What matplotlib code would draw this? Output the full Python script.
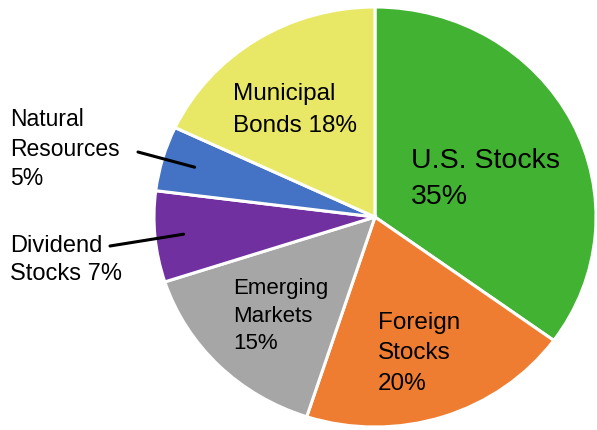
import matplotlib
matplotlib.use("Agg")
from matplotlib import pyplot as plt
import numpy as np

plt.rcParams['font.family'] = ['Liberation Sans', 'DejaVu Sans']

# data
categories = ["U.S. Stocks", "Foreign Stocks", "Emerging Markets",
              "Dividend Stocks", "Natural Resources", "Municipal Bonds"]
shares = [35, 20, 15, 7, 5, 18]
colors = ["#41B231", "#EE7D31", "#A6A6A6", "#7030A0", "#4472C4", "#E8E866"]
label_texts = ["U.S. Stocks\n35%", "Foreign\nStocks\n20%", "Emerging\nMarkets\n15%",
               "Dividend\nStocks 7%", "Natural\nResources\n5%", "Municipal\nBonds 18%"]

W, H = 597, 430
fig = plt.figure(figsize=(W / 100, H / 100), dpi=100)
ax = fig.add_axes([0, 0, 1, 1])

# pie is a bit wider than tall in the original
cx, cy = 375, 217
rx, ry = 221, 210

wedges, _ = ax.pie(shares, colors=colors, startangle=90, counterclock=False,
                   wedgeprops=dict(edgecolor='white', linewidth=2.2))
ax.set_xlim(-cx / rx, (W - cx) / rx)
ax.set_ylim(-(H - cy) / ry, cy / ry)
ax.set_aspect('auto')
ax.axis('off')


def fig_xy(px, py):
    return px / W, 1 - py / H


# (left x, block centre y in px, fontsize, linespacing)
label_pos = [(411, 179, 20.5, 1.45), (378, 353, 17.5, 1.5), (233, 316, 16, 1.4),
             (10, 260, 17, 1.31), (10, 149, 16.5, 1.34), (233, 110, 17.5, 1.6)]
for i, txt in enumerate(label_texts):
    px, py, fs, ls = label_pos[i]
    ax.text(*fig_xy(px, py), txt, transform=fig.transFigure, fontsize=fs,
            ha='left', va='center', linespacing=ls, color='black')

# leader lines for the two small slices
leaders = {3: ((110, 246), 0.87), 4: ((138, 152), 0.85)}
for i, (start, r) in leaders.items():
    w = wedges[i]
    mid = np.deg2rad((w.theta1 + w.theta2) / 2)
    ax.annotate("", xy=(r * np.cos(mid), r * np.sin(mid)),
                xytext=fig_xy(*start), textcoords='figure fraction',
                arrowprops=dict(arrowstyle='-', color='black', lw=2.2,
                                shrinkA=0, shrinkB=0))

fig.savefig("out.png", dpi=100)
